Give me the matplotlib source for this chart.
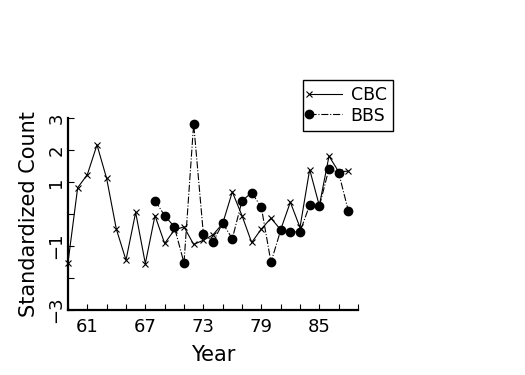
import matplotlib
matplotlib.use('Agg')
import matplotlib.pyplot as plt
from matplotlib.legend_handler import HandlerLine2D

# CBC and BBS standardized counts by year
cbc_years = list(range(59, 89))
cbc_values = [-1.52, 0.82, 1.23, 2.16, 1.11, -0.47, -1.44, 0.05, -1.55, -0.05,
              -0.92, -0.50, -0.40, -0.95, -0.82, -0.65, -0.30, 0.69, -0.05, -0.89,
              -0.47, -0.13, -0.49, 0.37, -0.42, 1.39, 0.26, 1.81, 1.32, 1.34]
bbs_years = list(range(68, 89))
bbs_values = [0.42, -0.05, -0.40, -1.53, 2.82, -0.61, -0.87, -0.29, -0.77, 0.41,
              0.67, 0.21, -1.51, -0.51, -0.56, -0.56, 0.28, 0.24, 1.42, 1.29, 0.10]

xticks = list(range(59, 90, 2))
xlabels = ['61', '67', '73', '79', '85']
yticks = [-3, -2, -1, 0, 1, 2, 3]
ylabels = ['-3', '', '-1', '', '1', '2', '3']


# legend marker drawn at the left end of the line, like the original
class LeftMarker(HandlerLine2D):
    def create_artists(self, *args, **kwargs):
        arts = super().create_artists(*args, **kwargs)
        arts[0].set_markevery([0])
        return arts


plt.rcParams['font.family'] = 'DejaVu Sans'
fig = plt.figure(figsize=(5.25, 3.75), dpi=100)
ax = fig.add_axes([0.1295, 0.1733, 0.5524, 0.512])

cbc, = ax.plot(cbc_years, cbc_values, color='black', lw=0.8, marker='x',
               ms=4, mew=0.8, clip_on=False, label='CBC')
bbs, = ax.plot(bbs_years, bbs_values, color='black', lw=0.8, ls='-.',
               marker='o', ms=6, clip_on=False, label='BBS')

ax.set_xlim(59, 89)
ax.set_ylim(-3, 3)
ax.set_xticks(xticks)
ax.set_xticklabels([str(t) if str(t) in xlabels else '' for t in xticks])
ax.set_yticks(yticks)
ax.set_yticklabels([l.replace('-', '\u2212') for l in ylabels], rotation=90, va='center')

for s in ['top', 'right']:
    ax.spines[s].set_visible(False)
for s in ['left', 'bottom']:
    ax.spines[s].set_linewidth(1.6)
ax.tick_params(direction='in', length=4, width=0.8, labelsize=13)
ax.tick_params(axis='x', pad=6)
ax.tick_params(axis='y', pad=2)

ax.set_xlabel('Year', fontsize=15, labelpad=6)
ax.set_ylabel('Standardized Count', fontsize=15, labelpad=6)

fig.legend(handles=[cbc, bbs], loc='upper left', bbox_to_anchor=(0.577, 0.787),
           borderaxespad=0, fancybox=False, edgecolor='black', framealpha=1,
           fontsize=12.5, handlelength=1.9, handletextpad=0.5, borderpad=0.35,
           labelspacing=0.15,
           handler_map={cbc: LeftMarker(), bbs: LeftMarker()})

fig.savefig('out.png', dpi=100)
